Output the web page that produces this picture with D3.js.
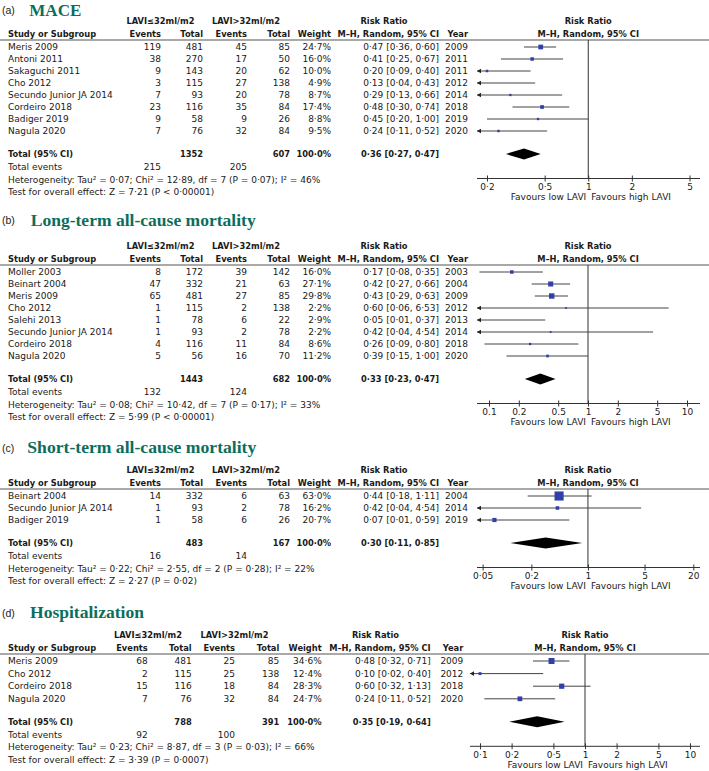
<!DOCTYPE html>
<html>
<head>
<meta charset="utf-8">
<script src="https://cdn.jsdelivr.net/npm/d3@7"></script>
<style>
body { margin: 0; background: #fff; }
svg { display: block; font-family: "DejaVu Sans", sans-serif; }
</style>
</head>
<body>
<div id="chart"></div>
<script>
// (a) MACE
const maceStudy = ["Meris 2009", "Antoni 2011", "Sakaguchi 2011", "Cho 2012", "Secundo Junior JA 2014", "Cordeiro 2018", "Badiger 2019", "Nagula 2020"];
const maceEv1 = [119, 38, 9, 3, 7, 23, 9, 7];
const maceTot1 = [481, 270, 143, 115, 93, 116, 58, 76];
const maceEv2 = [45, 17, 20, 27, 20, 35, 9, 32];
const maceTot2 = [85, 50, 62, 138, 78, 84, 26, 84];
const maceWeight = [24.7, 16.0, 10.0, 4.9, 8.7, 17.4, 8.8, 9.5];
const maceRR = [0.47, 0.41, 0.20, 0.13, 0.29, 0.48, 0.45, 0.24];
const maceLo = [0.36, 0.25, 0.09, 0.04, 0.13, 0.30, 0.20, 0.11];
const maceHi = [0.60, 0.67, 0.40, 0.43, 0.66, 0.74, 1.00, 0.52];
const maceYear = [2009, 2011, 2011, 2012, 2014, 2018, 2019, 2020];
const maceTotal = [1352, 607];
const maceEvents = [215, 205];
const maceOverall = [0.36, 0.27, 0.47];
const maceTicks = [0.2, 0.5, 1, 2, 5];
const maceTickLabels = ["0·2", "0·5", "1", "2", "5"];
const maceHet = "Heterogeneity: Tau² = 0·07; Chi² = 12·89, df = 7 (P = 0·07); I² = 46%";
const maceTest = "Test for overall effect: Z = 7·21 (P < 0·00001)";

// (b) Long-term all-cause mortality
const longStudy = ["Moller 2003", "Beinart 2004", "Meris 2009", "Cho 2012", "Salehi 2013", "Secundo Junior JA 2014", "Cordeiro 2018", "Nagula 2020"];
const longEv1 = [8, 47, 65, 1, 1, 1, 4, 5];
const longTot1 = [172, 332, 481, 115, 78, 93, 116, 56];
const longEv2 = [39, 21, 27, 2, 6, 2, 11, 16];
const longTot2 = [142, 63, 85, 138, 22, 78, 84, 70];
const longWeight = [16.0, 27.1, 29.8, 2.2, 2.9, 2.2, 8.6, 11.2];
const longRR = [0.17, 0.42, 0.43, 0.60, 0.05, 0.42, 0.26, 0.39];
const longLo = [0.08, 0.27, 0.29, 0.06, 0.01, 0.04, 0.09, 0.15];
const longHi = [0.35, 0.66, 0.63, 6.53, 0.37, 4.54, 0.80, 1.00];
const longYear = [2003, 2004, 2009, 2012, 2013, 2014, 2018, 2020];
const longTotal = [1443, 682];
const longEvents = [132, 124];
const longOverall = [0.33, 0.23, 0.47];
const longTicks = [0.1, 0.2, 0.5, 1, 2, 5, 10];
const longTickLabels = ["0.1", "0.2", "0.5", "1", "2", "5", "10"];
const longHet = "Heterogeneity: Tau² = 0·08; Chi² = 10·42, df = 7 (P = 0·17); I² = 33%";
const longTest = "Test for overall effect: Z = 5·99 (P < 0·00001)";

// (c) Short-term all-cause mortality
const shortStudy = ["Beinart 2004", "Secundo Junior JA 2014", "Badiger 2019"];
const shortEv1 = [14, 1, 1];
const shortTot1 = [332, 93, 58];
const shortEv2 = [6, 2, 6];
const shortTot2 = [63, 78, 26];
const shortWeight = [63.0, 16.2, 20.7];
const shortRR = [0.44, 0.42, 0.07];
const shortLo = [0.18, 0.04, 0.01];
const shortHi = [1.11, 4.54, 0.59];
const shortYear = [2004, 2014, 2019];
const shortTotal = [483, 167];
const shortEvents = [16, 14];
const shortOverall = [0.30, 0.11, 0.85];
const shortTicks = [0.05, 0.2, 1, 5, 20];
const shortTickLabels = ["0·05", "0·2", "1", "5", "20"];
const shortHet = "Heterogeneity: Tau² = 0·22; Chi² = 2·55, df = 2 (P = 0·28); I² = 22%";
const shortTest = "Test for overall effect: Z = 2·27 (P = 0·02)";

// (d) Hospitalization
const hospStudy = ["Meris 2009", "Cho 2012", "Cordeiro 2018", "Nagula 2020"];
const hospEv1 = [68, 2, 15, 7];
const hospTot1 = [481, 115, 116, 76];
const hospEv2 = [25, 25, 18, 32];
const hospTot2 = [85, 138, 84, 84];
const hospWeight = [34.6, 12.4, 28.3, 24.7];
const hospRR = [0.48, 0.10, 0.60, 0.24];
const hospLo = [0.32, 0.02, 0.32, 0.11];
const hospHi = [0.71, 0.40, 1.13, 0.52];
const hospYear = [2009, 2012, 2018, 2020];
const hospTotal = [788, 391];
const hospEvents = [92, 100];
const hospOverall = [0.35, 0.19, 0.64];
const hospTicks = [0.1, 0.2, 0.5, 1, 2, 5, 10];
const hospTickLabels = ["0·1", "0·2", "0·5", "1", "2", "5", "10"];
const hospHet = "Heterogeneity: Tau² = 0·23; Chi² = 8·87, df = 3 (P = 0·03); I² = 66%";
const hospTest = "Test for overall effect: Z = 3·39 (P = 0·0007)";

const width = 709;
const height = 771;

const ink = "#1a1a1a";
const teal = "#0b6e5d";
const boxBlue = "#3040a8";
const fs = 9;
const fsBold = 8.3;

// column layouts (right edges of the number columns)
const colsWide = { study: 8, ev1: 161, tot1: 203, ev2: 247, tot2: 290, w: 331, rr: 439, yr: 468, g1: 160.5, g2: 246, rrHead: 384 };
const colsNarrow = { study: 8, ev1: 147.7, tot1: 191.7, ev2: 235, tot2: 279.3, w: 321.7, rr: 430.7, yr: 463.3, g1: 148, g2: 234.5, rrHead: 375.5 };

const panels = [
    { tag: "(a)", title: "MACE", titleX: 29.3, titleW: 52, titleY: 15.5, hl: 40, step: 12, cols: colsWide, range: [487, 689.5], ext: [477, 700],
      study: maceStudy, ev1: maceEv1, tot1: maceTot1, ev2: maceEv2, tot2: maceTot2, weight: maceWeight,
      rr: maceRR, lo: maceLo, hi: maceHi, year: maceYear, total: maceTotal, events: maceEvents, overall: maceOverall,
      ticks: maceTicks, tickLabels: maceTickLabels, het: maceHet, test: maceTest },
    { tag: "(b)", title: "Long-term all-cause mortality", titleX: 30.7, titleW: 225, titleY: 225.5, hl: 265, step: 12, cols: colsWide, range: [489, 687], ext: [477, 700],
      study: longStudy, ev1: longEv1, tot1: longTot1, ev2: longEv2, tot2: longTot2, weight: longWeight,
      rr: longRR, lo: longLo, hi: longHi, year: longYear, total: longTotal, events: longEvents, overall: longOverall,
      ticks: longTicks, tickLabels: longTickLabels, het: longHet, test: longTest },
    { tag: "(c)", title: "Short-term all-cause mortality", titleX: 27.3, titleW: 229, titleY: 453, hl: 489, step: 12, cols: colsWide, range: [482.6, 693.3], ext: [477, 700],
      study: shortStudy, ev1: shortEv1, tot1: shortTot1, ev2: shortEv2, tot2: shortTot2, weight: shortWeight,
      rr: shortRR, lo: shortLo, hi: shortHi, year: shortYear, total: shortTotal, events: shortEvents, overall: shortOverall,
      ticks: shortTicks, tickLabels: shortTickLabels, het: shortHet, test: shortTest },
    { tag: "(d)", title: "Hospitalization", titleX: 30, titleW: 114, titleY: 618, hl: 654, step: 12.6, cols: colsNarrow, range: [480, 690], ext: [470, 700],
      study: hospStudy, ev1: hospEv1, tot1: hospTot1, ev2: hospEv2, tot2: hospTot2, weight: hospWeight,
      rr: hospRR, lo: hospLo, hi: hospHi, year: hospYear, total: hospTotal, events: hospEvents, overall: hospOverall,
      ticks: hospTicks, tickLabels: hospTickLabels, het: hospHet, test: hospTest }
];

const dot = v => d3.format(".2f")(v).replace(".", "·");
const pct = v => d3.format(".1f")(v).replace(".", "·") + "%";
const ci = (r, l, h) => `${dot(r)} [${dot(l)}, ${dot(h)}]`;

// box side grows a bit slower than weight
const boxSize = d3.scalePow().exponent(0.7).domain([0, 100]).range([0, 12.6]);

const svg = d3.select("#chart")
    .append("svg")
    .attr("width", width)
    .attr("height", height);

svg.append("rect").attr("width", width).attr("height", height).attr("fill", "#fff");

function txt(g, x, y, s, anchor, bold) {
    return g.append("text")
        .attr("x", x)
        .attr("y", y)
        .attr("text-anchor", anchor || "start")
        .attr("font-size", bold ? fsBold : fs)
        .attr("font-weight", bold ? "bold" : "normal")
        .attr("fill", ink)
        .text(s);
}

function drawPanel(p) {
    const g = svg.append("g");
    const c = p.cols;
    const b = 3.2; // center -> baseline

    g.append("text")
        .attr("x", 2).attr("y", p.titleY - 1.5)
        .attr("font-family", "Liberation Sans, Arial, sans-serif")
        .attr("font-size", 10.5)
        .attr("fill", ink)
        .text(p.tag);

    g.append("text")
        .attr("x", p.titleX).attr("y", p.titleY)
        .attr("font-family", "Liberation Serif, Times New Roman, serif")
        .attr("font-weight", "bold")
        .attr("font-size", 17)
        .attr("textLength", p.titleW)
        .attr("lengthAdjust", "spacingAndGlyphs")
        .attr("fill", teal)
        .text(p.title);

    // headers
    const h1 = p.hl - 19 + b;
    const h2 = p.hl - 6.5 + b;
    txt(g, c.g1, h1, "LAVI≤32ml/m2", "middle", true);
    txt(g, c.g2, h1, "LAVI>32ml/m2", "middle", true);
    txt(g, c.rrHead, h1, "Risk Ratio", "middle", true);
    txt(g, c.study, h2, "Study or Subgroup", "start", true);
    txt(g, c.ev1, h2, "Events", "end", true);
    txt(g, c.tot1, h2, "Total", "end", true);
    txt(g, c.ev2, h2, "Events", "end", true);
    txt(g, c.tot2, h2, "Total", "end", true);
    txt(g, c.w, h2, "Weight", "end", true);
    txt(g, c.rr, h2, "M–H, Random, 95% CI", "end", true);
    txt(g, c.yr, h2, "Year", "end", true);

    const x = d3.scaleLog().domain([p.ticks[0], p.ticks[p.ticks.length - 1]]).range(p.range);
    const x1 = x(1);
    txt(g, x1, h1, "Risk Ratio", "middle", true);
    txt(g, x1, h2, "M–H, Random, 95% CI", "middle", true);

    g.append("line")
        .attr("x1", 0).attr("x2", width)
        .attr("y1", p.hl).attr("y2", p.hl)
        .attr("stroke", "#555").attr("stroke-width", 1.2);

    const rowY = i => p.hl + 7 + i * p.step;
    const n = p.study.length;
    const totY = rowY(n - 1) + 23;
    const evY = totY + 13;
    const hetY = evY + 12.3;
    const testY = hetY + 12.3;
    const axisY = totY + 24.5;

    p.study.forEach((s, i) => {
        const y = rowY(i) + b;
        txt(g, c.study, y, s);
        txt(g, c.ev1, y, p.ev1[i], "end");
        txt(g, c.tot1, y, p.tot1[i], "end");
        txt(g, c.ev2, y, p.ev2[i], "end");
        txt(g, c.tot2, y, p.tot2[i], "end");
        txt(g, c.w, y, pct(p.weight[i]), "end");
        txt(g, c.rr, y, ci(p.rr[i], p.lo[i], p.hi[i]), "end");
        txt(g, c.yr, y, p.year[i], "end");
    });

    txt(g, c.study, totY + b, "Total (95% CI)", "start", true);
    txt(g, c.tot1, totY + b, p.total[0], "end", true);
    txt(g, c.tot2, totY + b, p.total[1], "end", true);
    txt(g, c.w, totY + b, "100·0%", "end", true);
    txt(g, c.rr, totY + b, ci(p.overall[0], p.overall[1], p.overall[2]), "end", true);
    txt(g, c.study, evY + b, "Total events");
    txt(g, c.ev1, evY + b, p.events[0], "end");
    txt(g, c.ev2, evY + b, p.events[1], "end");
    txt(g, c.study, hetY + b, p.het);
    txt(g, c.study, testY + b, p.test);

    // forest
    const [e0, e1] = p.ext;
    g.append("line")
        .attr("x1", x1).attr("x2", x1)
        .attr("y1", p.hl).attr("y2", axisY)
        .attr("stroke", "#333").attr("stroke-width", 1);

    p.study.forEach((s, i) => {
        const y = rowY(i);
        const xl = x(p.lo[i]), xh = x(p.hi[i]), xm = x(p.rr[i]);
        g.append("line")
            .attr("x1", Math.max(xl, e0)).attr("x2", Math.min(xh, e1))
            .attr("y1", y).attr("y2", y)
            .attr("stroke", "#444").attr("stroke-width", 1);
        if (xl < e0) {
            g.append("path")
                .attr("d", `M${e0},${y}L${e0 + 4},${y - 2.3}L${e0 + 4},${y + 2.3}Z`)
                .attr("fill", "#222");
        }
        if (xh > e1) {
            g.append("path")
                .attr("d", `M${e1},${y}L${e1 - 4},${y - 2.3}L${e1 - 4},${y + 2.3}Z`)
                .attr("fill", "#222");
        }
        if (xm >= e0 && xm <= e1) {
            const sz = Math.max(boxSize(p.weight[i]), 1.8);
            g.append("rect")
                .attr("x", xm - sz / 2).attr("y", y - sz / 2)
                .attr("width", sz).attr("height", sz)
                .attr("fill", boxBlue);
        }
    });

    const [or, ol, oh] = p.overall;
    g.append("path")
        .attr("d", `M${x(ol)},${totY}L${x(or)},${totY - 5.5}L${x(oh)},${totY}L${x(or)},${totY + 5.5}Z`)
        .attr("fill", "#000");

    const gAxis = g.append("g")
        .attr("transform", `translate(0,${axisY})`)
        .call(d3.axisBottom(x)
            .tickValues(p.ticks)
            .tickFormat((d, i) => p.tickLabels[i])
            .tickSize(3)
            .tickSizeOuter(0)
            .tickPadding(2));
    gAxis.attr("font-family", null).attr("font-size", fs);
    gAxis.select(".domain").remove();
    gAxis.selectAll(".tick line").attr("y1", -3).attr("stroke", "#333");
    gAxis.selectAll(".tick text").attr("fill", ink);
    gAxis.append("line")
        .attr("x1", e0).attr("x2", e1)
        .attr("stroke", "#333").attr("stroke-width", 1);

    txt(g, x1 - 2, axisY + 21.7, "Favours low LAVI", "end");
    txt(g, x1 + 3, axisY + 21.7, "Favours high LAVI", "start");
}

panels.forEach(drawPanel);
</script>
</body>
</html>
